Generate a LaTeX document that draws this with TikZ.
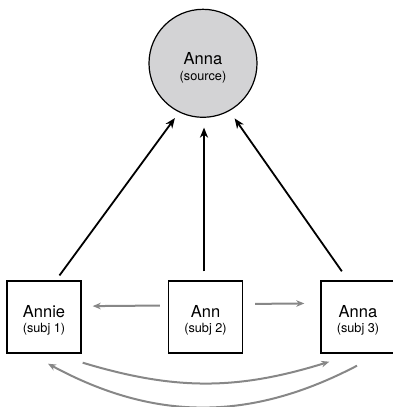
\documentclass[tikz,border=0pt]{standalone}
\usepackage{fontspec}
\setmainfont{TeX Gyre Heros}
\usepackage{tikz}
\usetikzlibrary{arrows.meta}

\definecolor{srcfill}{RGB}{211,211,213}
\definecolor{linkgray}{RGB}{135,135,135}

\newcommand{\sublabel}[1]{{\fontsize{12.7}{15}\selectfont #1}}

\begin{document}
\begin{tikzpicture}[x=1pt,y=1pt,
  source/.style={circle, draw, line width=1.2pt, fill=srcfill, minimum size=108pt, inner sep=0pt, align=center},
  subj/.style={rectangle, draw, line width=1.4pt, minimum width=74pt, minimum height=72pt, inner sep=0pt, align=center},
  tosource/.style={line width=1.8pt, -{Stealth[length=10pt,width=8pt,inset=3pt]}},
  between/.style={draw=linkgray, line width=2pt, -{Stealth[length=8pt,width=6.5pt,inset=2.5pt,fill=linkgray]}},
  big/.style={font=\fontsize{16.5}{18}\selectfont}]

\useasboundingbox (0,0) rectangle (392,-407);

% The source
\node[source, big] (source) at (203,-63.3) {\rule{0pt}{21pt}Anna\\[-2.5pt]\sublabel{(source)}};

% The subjects
\node[subj, big] (subj1) at (44,-317) {\rule{0pt}{19pt}Annie\\[-2.5pt]\sublabel{(subj 1)}};
\node[subj, big] (subj2) at (205.5,-317) {\rule{0pt}{19pt}Ann\\[-2.5pt]\sublabel{(subj 2)}};
\node[subj, big] (subj3) at (358,-317) {\rule{0pt}{19pt}Anna\\[-2.5pt]\sublabel{(subj 3)}};

% Arrows up to the source
\draw[tosource, shorten <=6pt, shorten >=7pt] (subj1.72.6) -- (source.244);
\draw[tosource, shorten <=9pt, shorten >=9.7pt] ([xshift=-1.5pt]subj2.north) -- ([xshift=-1.5pt]subj2.north |- source.south);
\draw[tosource, shorten <=11pt, shorten >=9pt] (subj3.105) -- (source.299);

% Arrows between the subjects
\draw[between, shorten <=8pt, shorten >=11pt] (subj2.163.5) -- (subj1.16.5);
\draw[between, shorten <=12pt, shorten >=16pt] (subj2.19.4) -- (subj3.160.6);
\draw[between] ([shift={(1,-9)}]subj1.south east) to[bend right=17] ([shift={(9,-8)}]subj3.south west);
\draw[between] ([shift={(-1,-12)}]subj3.south) to[bend left=28] ([shift={(4,-10)}]subj1.south);
\end{tikzpicture}
\end{document}
